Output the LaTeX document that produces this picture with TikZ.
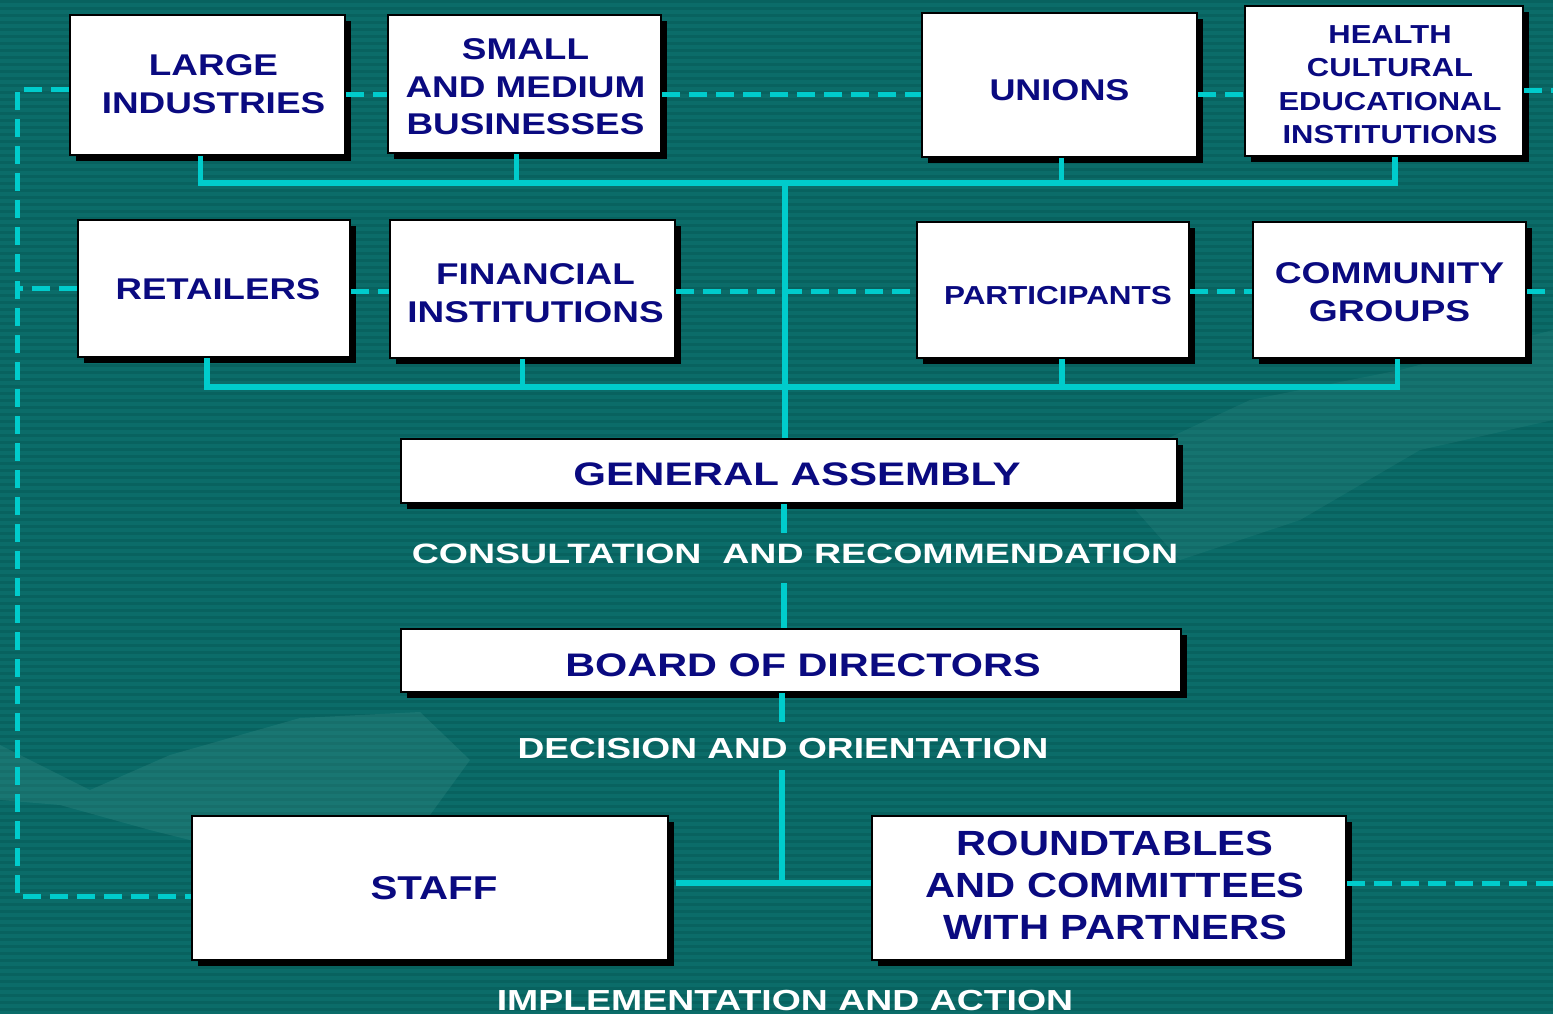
\documentclass[tikz,border=0pt]{standalone}
\usepackage{fontspec}
\setmainfont{Liberation Sans}
\usepackage{graphicx}
\usetikzlibrary{shadows}
\definecolor{bgteal}{HTML}{0B6C69}
\definecolor{stripe}{HTML}{08625F}
\definecolor{lite}{HTML}{3A8E88}
\definecolor{cyanl}{HTML}{00CCCC}
\definecolor{navy}{HTML}{0A0A80}
% #1 horizontal pad (2*dx), #2 downward shift, #3 x-scale, #4 size, #5 leading, #6 lines
\newcommand\tx[6]{\hspace*{#1}\raisebox{-#2}[\height][\depth]{\scalebox{#3}[1]{\fontsize{#4}{#5}\selectfont\bfseries\begin{tabular}{@{}c@{}}#6\end{tabular}}}}
\newcommand\lx[3]{\scalebox{#1}[1]{\fontsize{#2}{#2}\selectfont\bfseries #3}}
\begin{document}
\begin{tikzpicture}[x=1pt,y=-1pt,
  box/.style={draw=black, line width=2pt, fill=white, inner sep=0pt, text=navy,
    drop shadow={shadow xshift=6pt, shadow yshift=-6pt, fill=black, opacity=1}},
  bus/.style={draw=cyanl, line width=5.5pt},
  dsh/.style={draw=cyanl, line width=5pt, dash pattern=on 18pt off 9pt},
  lbl/.style={text=white, anchor=base, inner sep=0pt}]
\useasboundingbox (0,0) rectangle (1553,1014);
% background
\fill[bgteal] (0,0) rectangle (1553,1014);
\foreach \i in {0,...,145} \fill[stripe] (0,\i*7) rectangle (1553,\i*7+3);
\fill[lite, opacity=0.3] (0,745) -- (90,790) -- (170,755) -- (300,718) -- (420,712) -- (470,760) -- (430,815) -- (300,830) -- (230,850) -- (150,830) -- (60,805) -- (0,800) -- cycle;
\fill[lite, opacity=0.22] (1100,470) -- (1250,400) -- (1400,370) -- (1553,330) -- (1553,420) -- (1420,450) -- (1300,520) -- (1180,560) -- cycle;
% boxes
\node[box, minimum width=275pt, minimum height=140pt] (li)  at (207.5,85)  {\tx{12pt}{2pt}{1.23}{30}{38}{LARGE\\INDUSTRIES}};
\node[box, minimum width=273pt, minimum height=138pt] (smb) at (524.5,84)  {\tx{2pt}{6pt}{1.23}{30}{37.5}{SMALL\\AND MEDIUM\\BUSINESSES}};
\node[box, minimum width=275pt, minimum height=144pt] (uni) at (1059.5,85) {\tx{0pt}{8pt}{1.2}{30}{36}{UNIONS}};
\node[box, minimum width=278pt, minimum height=150pt] (hce) at (1384,81)   {\tx{12pt}{6pt}{1.19}{26}{33.5}{HEALTH\\CULTURAL\\EDUCATIONAL\\INSTITUTIONS}};
\node[box, minimum width=272pt, minimum height=137pt] (ret) at (214,288.5) {\tx{8pt}{4pt}{1.22}{30}{36}{RETAILERS}};
\node[box, minimum width=285pt, minimum height=138pt] (fin) at (532.5,289) {\tx{6pt}{7pt}{1.23}{30}{38}{FINANCIAL\\INSTITUTIONS}};
\node[box, minimum width=272pt, minimum height=136pt] (par) at (1053,290)  {\tx{10pt}{8pt}{1.21}{26}{32}{PARTICIPANTS}};
\node[box, minimum width=273pt, minimum height=136pt] (com) at (1389.5,290){\tx{0pt}{5pt}{1.24}{30}{38}{COMMUNITY\\GROUPS}};
\node[box, minimum width=776pt, minimum height=64pt]  (ga)  at (789,471)   {\tx{16pt}{6pt}{1.29}{32.6}{40}{GENERAL ASSEMBLY}};
\node[box, minimum width=780pt, minimum height=63pt]  (bod) at (791,660.5) {\tx{24pt}{8pt}{1.27}{32.6}{40}{BOARD OF DIRECTORS}};
\node[box, minimum width=476pt, minimum height=144pt] (staff) at (430,888) {\tx{8pt}{3pt}{1.22}{33}{40}{STAFF}};
\node[box, minimum width=474pt, minimum height=144pt] (rt)  at (1109,888)  {\tx{12pt}{1pt}{1.19}{35}{42}{ROUNDTABLES\\AND COMMITTEES\\WITH PARTNERS}};
% coordinates
\coordinate (b1) at (785,183);
\coordinate (b2) at (785,387);
\coordinate (c1) at (784,533);
\coordinate (c2) at (784,583);
\coordinate (d1) at (782,722);
\coordinate (d2) at (782,770);
\coordinate (j)  at (782,883);
\coordinate (r1) at (0,95);
\coordinate (r2) at (0,291);
\coordinate (lx) at (17,500);
\coordinate (ex1) at (1553,91);
\coordinate (ex2) at (1553,291);
\coordinate (ex3) at (1553,883);
% dashed links
\draw[dsh] ([yshift=-5pt]li.west) -| (lx) |- ([yshift=-8pt]staff.west);
\draw[dsh] (ret.west) -- (ret.west -| lx);
\draw[dsh] (li.east |- r1) -- (smb.west |- r1);
\draw[dsh] (smb.east |- r1) -- (uni.west |- r1);
\draw[dsh] (uni.east |- r1) -- (hce.west |- r1);
\draw[dsh] (hce.east |- ex1) -- (ex1);
\draw[dsh] (ret.east |- r2) -- (fin.west |- r2);
\draw[dsh] (fin.east |- r2) -- (par.west |- r2);
\draw[dsh] (par.east |- r2) -- (com.west |- r2);
\draw[dsh] (com.east |- r2) -- (ex2);
\draw[dsh] (rt.east |- ex3) -- (ex3);
% solid buses
\draw[bus] ([xshift=-7pt]li.south) |- (b1);
\draw[bus] ([xshift=-8pt]smb.south) |- (b1);
\draw[bus] ([xshift=2pt]uni.south) |- (b1);
\draw[bus] ([xshift=11pt]hce.south) |- (b1);
\draw[bus] ([xshift=-7pt]ret.south) |- (b2);
\draw[bus] ([xshift=-10pt]fin.south) |- (b2);
\draw[bus] ([xshift=9pt]par.south) |- (b2);
\draw[bus] ([xshift=8pt]com.south) |- (b2);
\draw[bus] (b1) -- (b1 |- ga.north);
\draw[bus] (ga.south -| c1) -- (c1);
\draw[bus] (c2) -- (c2 |- bod.north);
\draw[bus] (bod.south -| d1) -- (d1);
\draw[bus] (d2) -- (j);
\draw[bus] ([xshift=7pt]staff.east |- j) -- (rt.west |- j);
% labels
\node[lbl] (cons) at (795,563)  {\lx{1.34}{28}{CONSULTATION\ \ AND RECOMMENDATION}};
\node[lbl] (dec)  at (783,758)  {\lx{1.28}{29}{DECISION AND ORIENTATION}};
\node[lbl] (impl) at (785,1010) {\lx{1.29}{29}{IMPLEMENTATION AND ACTION}};
\end{tikzpicture}
\end{document}
